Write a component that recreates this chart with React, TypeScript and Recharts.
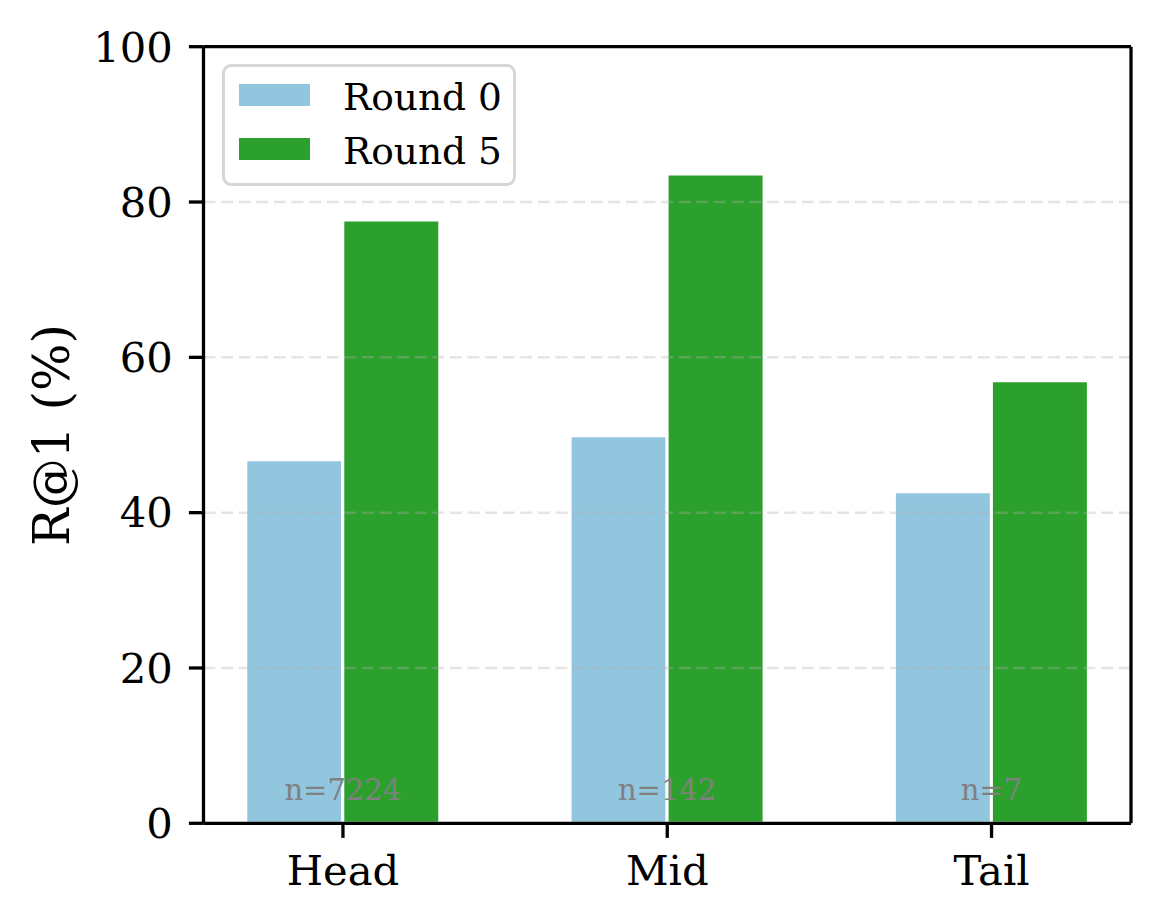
import React from "react"
import { BarChart, Bar, XAxis, YAxis, ReferenceLine, Legend, LabelList, Label } from "recharts"

const CATEGORIES = ["Head", "Mid", "Tail"]
const ROUND0 = [46.8, 49.9, 42.7]
const ROUND5 = [77.7, 83.6, 57.0]
const COUNTS = [7224, 142, 7]
const Y_TICKS = [0, 20, 40, 60, 80, 100]
const GRID_LINES = [20, 40, 60, 80]
const X_TICKS = [0, 1, 2]

const BLUE = "#92c5de"
const GREEN = "#2ca02c"
const FONT = "'DejaVu Serif', serif"
const SPINE = 3.3

const data = CATEGORIES.map((name, i) => ({
  pos: i,
  name,
  r0: ROUND0[i],
  r5: ROUND5[i],
  n: `n=${COUNTS[i]}`,
}))

function CountLabel(props: any) {
  const { x, y, height, value } = props
  return (
    <text x={x} y={y + height - 23} textAnchor="middle" fontSize={29} fill="#808080" fontFamily={FONT}>
      {value}
    </text>
  )
}

function LegendBox() {
  const rows = [
    { label: "Round 0", color: BLUE, top: 17 },
    { label: "Round 5", color: GREEN, top: 71 },
  ]
  return (
    <div
      style={{
        position: "relative",
        width: 294,
        height: 122,
        boxSizing: "border-box",
        border: "3px solid #d6d6d6",
        borderRadius: 9,
        background: "rgba(255,255,255,0.8)",
        fontFamily: FONT,
      }}
    >
      {rows.map((r) => (
        <React.Fragment key={r.label}>
          <div style={{ position: "absolute", left: 14, top: r.top, width: 71, height: 22, background: r.color }} />
          <div
            style={{
              position: "absolute",
              left: 118,
              top: r.top - 9,
              fontSize: 37.5,
              lineHeight: "44px",
              color: "#000",
              whiteSpace: "nowrap",
            }}
          >
            {r.label}
          </div>
        </React.Fragment>
      ))}
    </div>
  )
}

export default function App() {
  return (
    <div style={{ position: "absolute", left: 0, top: 0, width: 1160, height: 924, background: "#fff" }}>
      <BarChart
        width={1160}
        height={924}
        data={data}
        margin={{ top: 46.7, right: 29, left: 0, bottom: 0 }}
        barGap={0}
      >
        <XAxis
          dataKey="pos"
          type="number"
          domain={[-0.43, 2.43]}
          ticks={X_TICKS}
          interval={0}
          tickFormatter={(v: number) => CATEGORIES[v]}
          height={100.7}
          tickSize={14.6}
          tickMargin={17}
          tick={{ fontSize: 41.7, fill: "#000", fontFamily: FONT }}
          axisLine={{ stroke: "#000", strokeWidth: SPINE }}
          tickLine={{ stroke: "#000", strokeWidth: SPINE }}
        />
        <YAxis
          type="number"
          domain={[0, 100]}
          ticks={Y_TICKS}
          interval={0}
          width={203.5}
          tickSize={14.6}
          tickMargin={16}
          tick={{ fontSize: 41.7, fill: "#000", fontFamily: FONT }}
          axisLine={{ stroke: "#000", strokeWidth: SPINE }}
          tickLine={{ stroke: "#000", strokeWidth: SPINE }}
        >
          <Label
            content={() => (
              <text
                x={52}
                y={435}
                transform="rotate(-90, 52, 435)"
                textAnchor="middle"
                dominantBaseline="central"
                fontSize={50}
                fill="#000"
                fontFamily={FONT}
              >
                R@1 (%)
              </text>
            )}
          />
        </YAxis>
        <Legend
          layout="vertical"
          align="center"
          verticalAlign="middle"
          content={() => <LegendBox />}
          wrapperStyle={{ left: 222, top: 64, width: 294, height: 122 }}
        />
        <Bar dataKey="r0" name="Round 0" fill={BLUE} stroke="#fff" strokeWidth={3} barSize={97} isAnimationActive={false} />
        <Bar dataKey="r5" name="Round 5" fill={GREEN} stroke="#fff" strokeWidth={3} barSize={97} isAnimationActive={false}>
          <LabelList dataKey="n" content={CountLabel} />
        </Bar>
        {GRID_LINES.map((v) => (
          <ReferenceLine
            key={v}
            y={v}
            stroke="#b0b0b0"
            strokeOpacity={0.33}
            strokeWidth={2.5}
            strokeDasharray="12 5.6"
          />
        ))}
        <ReferenceLine y={100} stroke="#000" strokeWidth={SPINE} />
        <ReferenceLine x={2.43} stroke="#000" strokeWidth={SPINE} />
      </BarChart>
    </div>
  )
}
